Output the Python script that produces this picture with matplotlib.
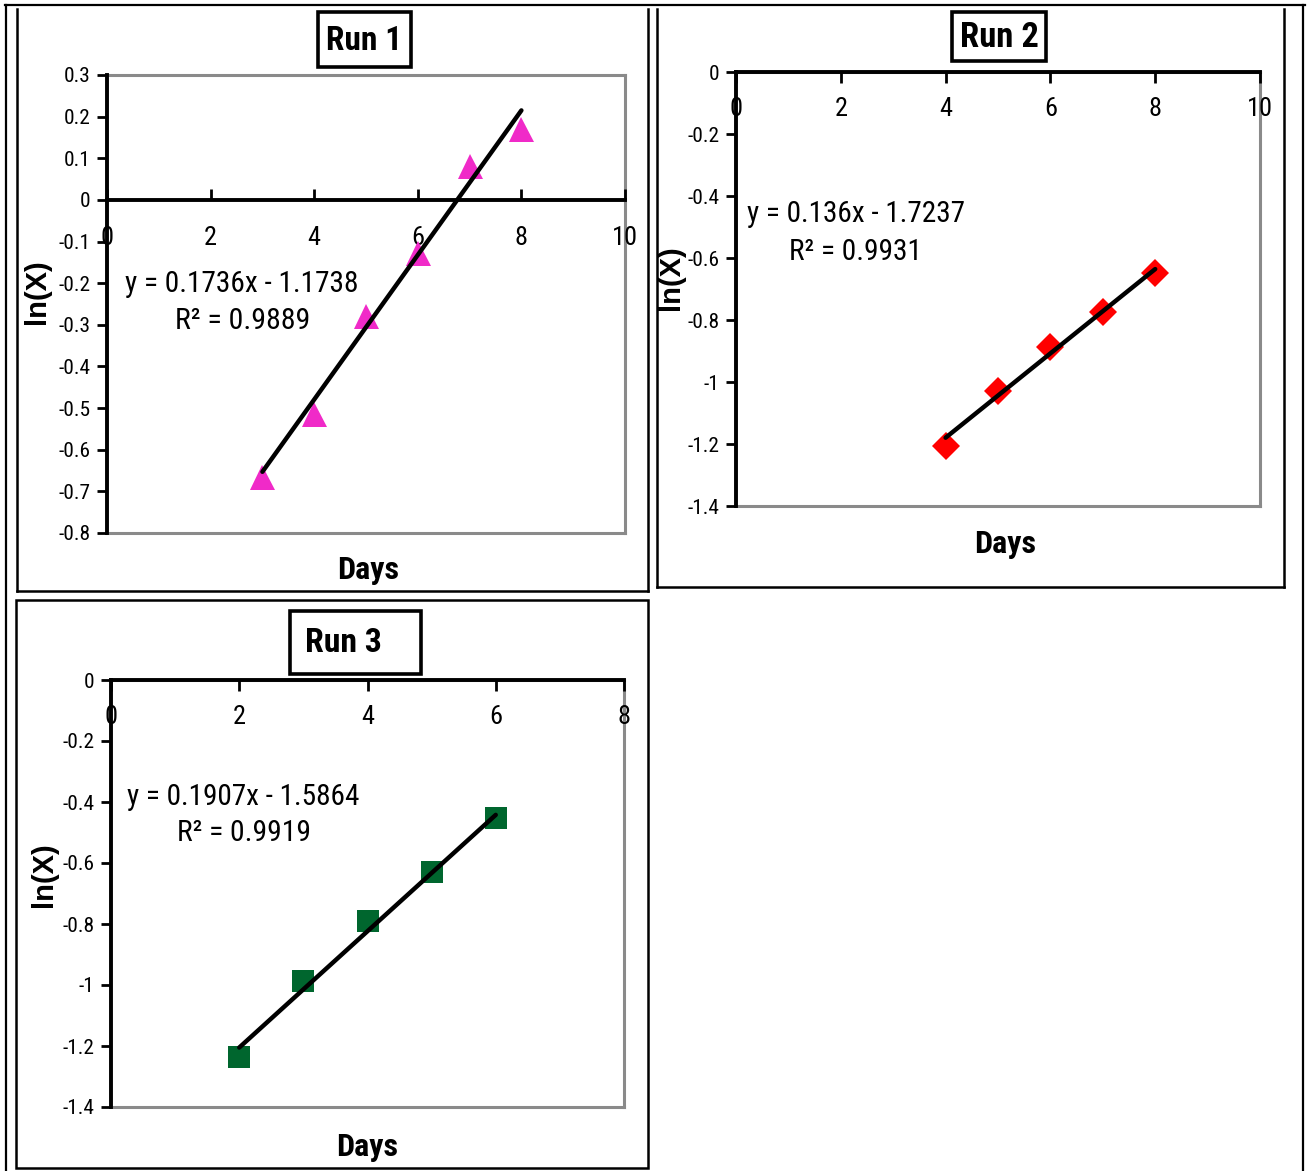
import numpy as np
import matplotlib
matplotlib.use('Agg')
import matplotlib.pyplot as plt
from matplotlib import font_manager
from matplotlib.lines import Line2D
from matplotlib.patches import Rectangle

# values
days_run1 = [3, 4, 5, 6, 7, 8]
lnx_run1 = [-0.666, -0.515, -0.279, -0.127, 0.082, 0.171]
days_run2 = [4, 5, 6, 7, 8]
lnx_run2 = [-1.206, -1.029, -0.887, -0.774, -0.648]
days_run3 = [2, 3, 4, 5, 6]
lnx_run3 = [-1.236, -0.987, -0.790, -0.630, -0.452]

# trend lines as printed on the chart (slope, intercept, r2)
fit_run1 = (0.1736, -1.1738, 0.9889)
fit_run2 = (0.136, -1.7237, 0.9931)
fit_run3 = (0.1907, -1.5864, 0.9919)

titles = ['Run 1', 'Run 2', 'Run 3']

W, H = 1308, 1171

# pick a narrow face if there is one (the chart uses Arial Narrow-like text)
fl = font_manager.fontManager.ttflist
names = {f.name for f in fl}
NARROW, STRETCH = 'Liberation Sans', 'normal'
for cand in ['Liberation Sans Narrow', 'Arial Narrow', 'Roboto Condensed',
             'DejaVu Sans Condensed', 'Open Sans Condensed']:
    if cand in names:
        NARROW = cand
        break
else:
    for fam in ['DejaVu Sans', 'Roboto', 'Noto Sans', 'Open Sans']:
        if any(f.name == fam and 'condensed' in str(f.stretch) for f in fl):
            NARROW, STRETCH = fam, 'condensed'
            break

plt.rcParams['font.family'] = [NARROW, 'DejaVu Sans']
plt.rcParams['font.stretch'] = STRETCH
plt.rcParams['axes.unicode_minus'] = False

fig = plt.figure(figsize=(W / 100, H / 100), dpi=100)
renderer = fig.canvas.get_renderer()


def fx(x):
    return x / W


def fy(y):
    return 1 - y / H


def size_for(s, width, **kw):
    # font size that makes string s about `width` pixels wide
    t = fig.text(0, 0, s, fontsize=20, **kw)
    w = t.get_window_extent(renderer).width
    t.remove()
    return 20 * width / w


def fit_text(x, y, s, width, ha='left', rotation=0, **kw):
    fs = size_for(s, width, **kw)
    return fig.text(fx(x), fy(y), s, fontsize=fs, ha=ha, va='center', rotation=rotation, **kw)


def fline(x0, y0, x1, y1, lw=1.8, color='black'):
    fig.add_artist(Line2D([fx(x0), fx(x1)], [fy(y0), fy(y1)], transform=fig.transFigure,
                          color=color, lw=lw, solid_capstyle='projecting'))


def title_box(x0, y0, x1, y1, text, tx, tw):
    fig.add_artist(Rectangle((fx(x0), fy(y1)), (x1 - x0) / W, (y1 - y0) / H,
                             transform=fig.transFigure, fill=False, ec='black', lw=2.6))
    fit_text(tx, (y0 + y1) / 2 + 1, text, tw, ha='center', fontweight='bold')


TICK_FS = size_for('-0.1', 32)
XTICK_FS = size_for('10', 26)


def panel(area, xmax, ymin, ymax, ystep, xs, ys, fit, marker, color, ms, xdir, xpad,
          eq_xy, eq_w, r2_xy, r2_w, ylab_xy, days_xy):
    l, t, r, b = area
    ax = fig.add_axes([fx(l), fy(b), (r - l) / W, (b - t) / H])
    ax.set_xlim(0, xmax)
    ax.set_ylim(ymin, ymax)
    ax.patch.set_alpha(0)

    # gray plot-area border
    for (x0, y0, x1, y1) in [(0, 1, 1, 1), (1, 1, 1, 0), (1, 0, 0, 0)]:
        ax.add_line(Line2D([x0, x1], [y0, y1], transform=ax.transAxes, color='#8a8a8a',
                           lw=2.2, clip_on=False, zorder=1))

    ax.spines['top'].set_visible(False)
    ax.spines['right'].set_visible(False)
    ax.spines['bottom'].set_position(('data', 0))
    ax.spines['bottom'].set_linewidth(2.8)
    ax.spines['left'].set_linewidth(2.8)
    ax.spines['bottom'].set_zorder(3)
    ax.spines['left'].set_zorder(3)

    xt = np.arange(0, xmax + 1, 2)
    ax.set_xticks(xt)
    ax.set_xticklabels([str(v) for v in xt], fontsize=XTICK_FS)
    yt = np.round(np.arange(ymin, ymax + ystep / 2, ystep), 2)
    ax.set_yticks(yt)
    ax.set_yticklabels(['%g' % (v + 0.0) for v in yt], fontsize=TICK_FS)
    ax.tick_params(axis='x', direction=xdir, length=8, width=2, pad=xpad)
    ax.tick_params(axis='y', direction='out', length=7, width=2, pad=5)

    ax.plot(xs, ys, linestyle='none', marker=marker, color=color, ms=ms, mew=0, zorder=4,
            clip_on=False)
    slope, icpt, r2 = fit
    xl = np.array([min(xs), max(xs)])
    ax.plot(xl, slope * xl + icpt, color='black', lw=3.2, solid_capstyle='round', zorder=5)

    fit_text(eq_xy[0], eq_xy[1], 'y = %gx - %g' % (slope, abs(icpt)), eq_w)
    fit_text(r2_xy[0], r2_xy[1], 'R² = %g' % r2, r2_w)
    fig.text(fx(ylab_xy[0]), fy(ylab_xy[1]), 'ln(X)', rotation=90, ha='center', va='center',
             fontsize=21, fontweight='bold', family=['Liberation Sans', 'DejaVu Sans'],
             fontstretch='normal')
    fit_text(days_xy[0], days_xy[1], 'Days', 62, ha='center', fontweight='bold')
    return ax


# outer border
fline(5, 5, 1305, 5, lw=1.6)
fline(6, 5, 6, 1171, lw=1.6)
fline(1303, 5, 1303, 1171, lw=1.6)

# panel frames
fline(17, 9, 17, 591)
fline(648, 9, 648, 591)
fline(17, 591, 648, 591)
fline(657, 9, 657, 587)
fline(1284, 9, 1284, 587)
fline(657, 587, 1284, 587)
fig.add_artist(Rectangle((fx(16), fy(1168)), (648 - 16) / W, (1168 - 600) / H,
                         transform=fig.transFigure, fill=False, ec='black', lw=1.8))

panel((107, 75, 625, 533), 10, -0.8, 0.3, 0.1, days_run1, lnx_run1, fit_run1,
      '^', '#F02AC8', 18, 'in', 19, (125, 284), 234, (175, 321), 135, (37, 292), (368, 570))
panel((736, 72, 1260, 506), 10, -1.4, 0.0, 0.2, days_run2, lnx_run2, fit_run2,
      'D', '#FF0000', 14, 'out', 10, (747, 214), 218, (789, 252), 133, (671, 278), (1005, 544))
panel((111, 680, 624, 1107), 8, -1.4, 0.0, 0.2, days_run3, lnx_run3, fit_run3,
      's', '#00662E', 16, 'out', 10, (127, 797), 233, (177, 833), 134, (44, 875), (367, 1147))

title_box(318, 12, 411, 67, titles[0], 364, 76)
title_box(952, 12, 1046, 61, titles[1], 999, 79)
title_box(290, 611, 421, 674, titles[2], 343, 77)

fig.savefig('out.png', dpi=100)
